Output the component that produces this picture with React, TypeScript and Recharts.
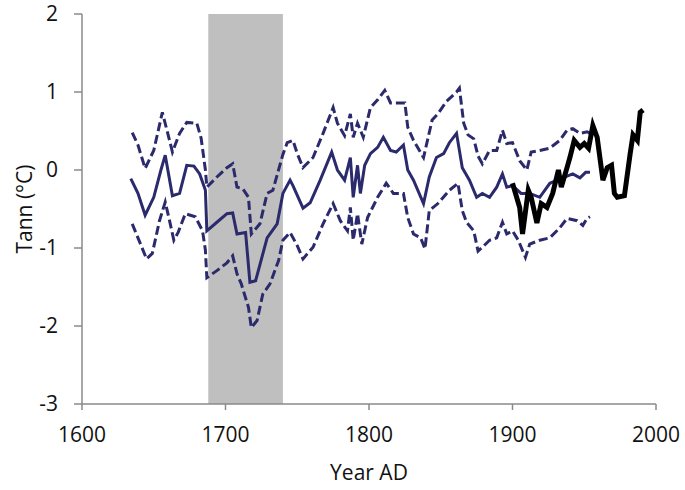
import React from "react";
import {
  LineChart,
  Line,
  XAxis,
  YAxis,
  ReferenceArea,
} from "recharts";

// reconstruction, upper and lower bounds (dashed)
const upperYears = [1635, 1639, 1644, 1650, 1656, 1661, 1663, 1668, 1673, 1680, 1683, 1686, 1687, 1694, 1701, 1705, 1708, 1712, 1716, 1718, 1724, 1729, 1733, 1740, 1743, 1747, 1750, 1754, 1761, 1768, 1775, 1778, 1783, 1787, 1789, 1792, 1796, 1801, 1806, 1811, 1815, 1819, 1825, 1827, 1831, 1838, 1844, 1848, 1854, 1861, 1863, 1866, 1869, 1873, 1876, 1879, 1884, 1889, 1893, 1896, 1900, 1905, 1910, 1913, 1919, 1926, 1933, 1938, 1942, 1947, 1952, 1954];
const upperVals = [0.48, 0.32, 0.02, 0.25, 0.74, 0.38, 0.23, 0.47, 0.61, 0.6, 0.41, 0.0, -0.22, -0.09, 0.03, 0.08, -0.22, -0.24, -0.35, -0.82, -0.69, -0.3, -0.26, 0.2, 0.35, 0.38, 0.21, 0.03, 0.16, 0.47, 0.8, 0.6, 0.44, 0.72, 0.42, 0.6, 0.42, 0.8, 0.9, 1.02, 0.86, 0.86, 0.86, 0.55, 0.38, 0.16, 0.64, 0.72, 0.88, 1.0, 1.05, 0.6, 0.45, 0.4, 0.18, 0.08, 0.25, 0.25, 0.51, 0.34, 0.35, 0.12, 0.0, 0.23, 0.25, 0.28, 0.38, 0.51, 0.53, 0.47, 0.49, 0.47];

const meanYears = [1634, 1639, 1644, 1650, 1655, 1658, 1663, 1668, 1673, 1678, 1682, 1686, 1687, 1694, 1701, 1705, 1708, 1714, 1717, 1721, 1729, 1736, 1740, 1745, 1747, 1754, 1759, 1766, 1774, 1778, 1783, 1787, 1789, 1792, 1794, 1797, 1801, 1806, 1810, 1815, 1819, 1824, 1827, 1831, 1838, 1842, 1847, 1852, 1856, 1861, 1865, 1870, 1875, 1879, 1884, 1889, 1893, 1896, 1900, 1906, 1912, 1919, 1926, 1935, 1942, 1947, 1951, 1954];
const meanVals = [-0.11, -0.3, -0.58, -0.35, 0.0, 0.19, -0.33, -0.3, 0.06, 0.05, -0.05, -0.26, -0.78, -0.67, -0.56, -0.55, -0.82, -0.8, -1.44, -1.42, -0.87, -0.69, -0.3, -0.13, -0.2, -0.49, -0.42, -0.13, 0.23, 0.0, -0.13, 0.16, -0.35, 0.06, -0.3, 0.06, 0.21, 0.29, 0.42, 0.25, 0.23, 0.32, 0.0, -0.13, -0.43, -0.09, 0.16, 0.21, 0.35, 0.47, 0.03, -0.13, -0.35, -0.3, -0.35, -0.22, -0.05, -0.22, -0.2, -0.3, -0.3, -0.35, -0.17, -0.1, -0.05, -0.1, -0.03, -0.03];

const lowerYears = [1635, 1639, 1645, 1649, 1654, 1658, 1661, 1664, 1667, 1672, 1679, 1684, 1686, 1687, 1694, 1701, 1705, 1708, 1711, 1716, 1718, 1722, 1726, 1731, 1737, 1740, 1745, 1750, 1754, 1761, 1768, 1775, 1780, 1785, 1787, 1789, 1792, 1795, 1799, 1806, 1812, 1817, 1824, 1827, 1831, 1836, 1839, 1842, 1848, 1856, 1862, 1865, 1868, 1873, 1876, 1879, 1884, 1889, 1893, 1896, 1900, 1904, 1909, 1912, 1919, 1926, 1933, 1938, 1945, 1949, 1952, 1954];
const lowerVals = [-0.69, -0.87, -1.14, -1.07, -0.65, -0.41, -0.65, -0.9, -0.8, -0.56, -0.6, -0.78, -1.03, -1.38, -1.29, -1.19, -1.1, -1.33, -1.46, -1.76, -2.02, -1.93, -1.59, -1.46, -1.16, -0.9, -0.8, -0.97, -1.14, -0.99, -0.69, -0.43, -0.65, -0.78, -0.48, -0.9, -0.56, -0.95, -0.61, -0.35, -0.17, -0.3, -0.3, -0.61, -0.82, -0.87, -1.01, -0.52, -0.43, -0.26, -0.17, -0.52, -0.67, -0.78, -1.04, -0.99, -0.9, -0.87, -0.67, -0.82, -0.78, -0.9, -1.12, -0.95, -0.9, -0.87, -0.74, -0.62, -0.65, -0.71, -0.62, -0.6];

// instrumental record (black)
const obsYears = [1900, 1905, 1907, 1911, 1913, 1917, 1920, 1924, 1928, 1932, 1934, 1938, 1940, 1943, 1947, 1950, 1953, 1956, 1959, 1963, 1966, 1969, 1971, 1973, 1978, 1982, 1984, 1987, 1989, 1991];
const obsVals = [-0.17, -0.48, -0.82, -0.26, -0.35, -0.68, -0.43, -0.48, -0.3, 0.0, -0.22, 0.03, 0.16, 0.38, 0.29, 0.34, 0.28, 0.57, 0.42, -0.13, 0.03, 0.06, -0.3, -0.35, -0.33, 0.21, 0.45, 0.38, 0.74, 0.77];

const xTicks = [1600, 1700, 1800, 1900, 2000];
const yTicks = [-3, -2, -1, 0, 1, 2];
const bandStart = 1688;
const bandEnd = 1740;

const toPoints = (years: number[], vals: number[]) =>
  years.map((year, i) => ({ year, v: vals[i] }));

const upper = toPoints(upperYears, upperVals);
const mean = toPoints(meanYears, meanVals);
const lower = toPoints(lowerYears, lowerVals);
const obs = toPoints(obsYears, obsVals);

const navy = "#2B2A6C";
const axisColor = "#8A8A8A";
const textColor = "#111";
const font = "'Open Sans', sans-serif";

export default function App() {
  return (
    <div style={{ position: "absolute", left: 0, top: 0, background: "#fff" }}>
      <LineChart
        width={685}
        height={490}
        margin={{ top: 14, right: 29, bottom: 10, left: 25 }}
      >
        <XAxis
          dataKey="year"
          type="number"
          domain={[1600, 2000]}
          ticks={xTicks}
          allowDataOverflow
          height={76}
          stroke={axisColor}
          strokeWidth={1.5}
          tickSize={6}
          tickMargin={17}
          tick={{ fill: textColor, fontSize: 21, fontFamily: font }}
          label={{
            value: "Year AD",
            position: "insideBottom",
            offset: 0,
            fill: textColor,
            fontSize: 21,
            fontFamily: font,
          }}
        />
        <YAxis
          type="number"
          domain={[-3, 2]}
          ticks={yTicks}
          width={57}
          stroke={axisColor}
          strokeWidth={1.5}
          tickSize={8}
          tickMargin={16}
          tick={{ fill: textColor, fontSize: 21, fontFamily: font }}
          label={{
            value: "Tann (°C)",
            angle: -90,
            position: "insideLeft",
            offset: 0,
            style: { textAnchor: "middle" },
            fill: textColor,
            fontSize: 21,
            fontFamily: font,
          }}
        />
        <ReferenceArea
          x1={bandStart}
          x2={bandEnd}
          y1={-3}
          y2={2}
          fill="#BFBFBF"
          fillOpacity={1}
          stroke="none"
        />
        <Line
          data={upper}
          dataKey="v"
          stroke={navy}
          strokeWidth={3}
          strokeDasharray="9 4"
          dot={false}
          type="linear"
          isAnimationActive={false}
        />
        <Line
          data={lower}
          dataKey="v"
          stroke={navy}
          strokeWidth={3}
          strokeDasharray="9 4"
          dot={false}
          type="linear"
          isAnimationActive={false}
        />
        <Line
          data={mean}
          dataKey="v"
          stroke={navy}
          strokeWidth={3}
          dot={false}
          type="linear"
          isAnimationActive={false}
        />
        <Line
          data={obs}
          dataKey="v"
          stroke="#000"
          strokeWidth={5}
          dot={false}
          type="linear"
          isAnimationActive={false}
        />
      </LineChart>
    </div>
  );
}
